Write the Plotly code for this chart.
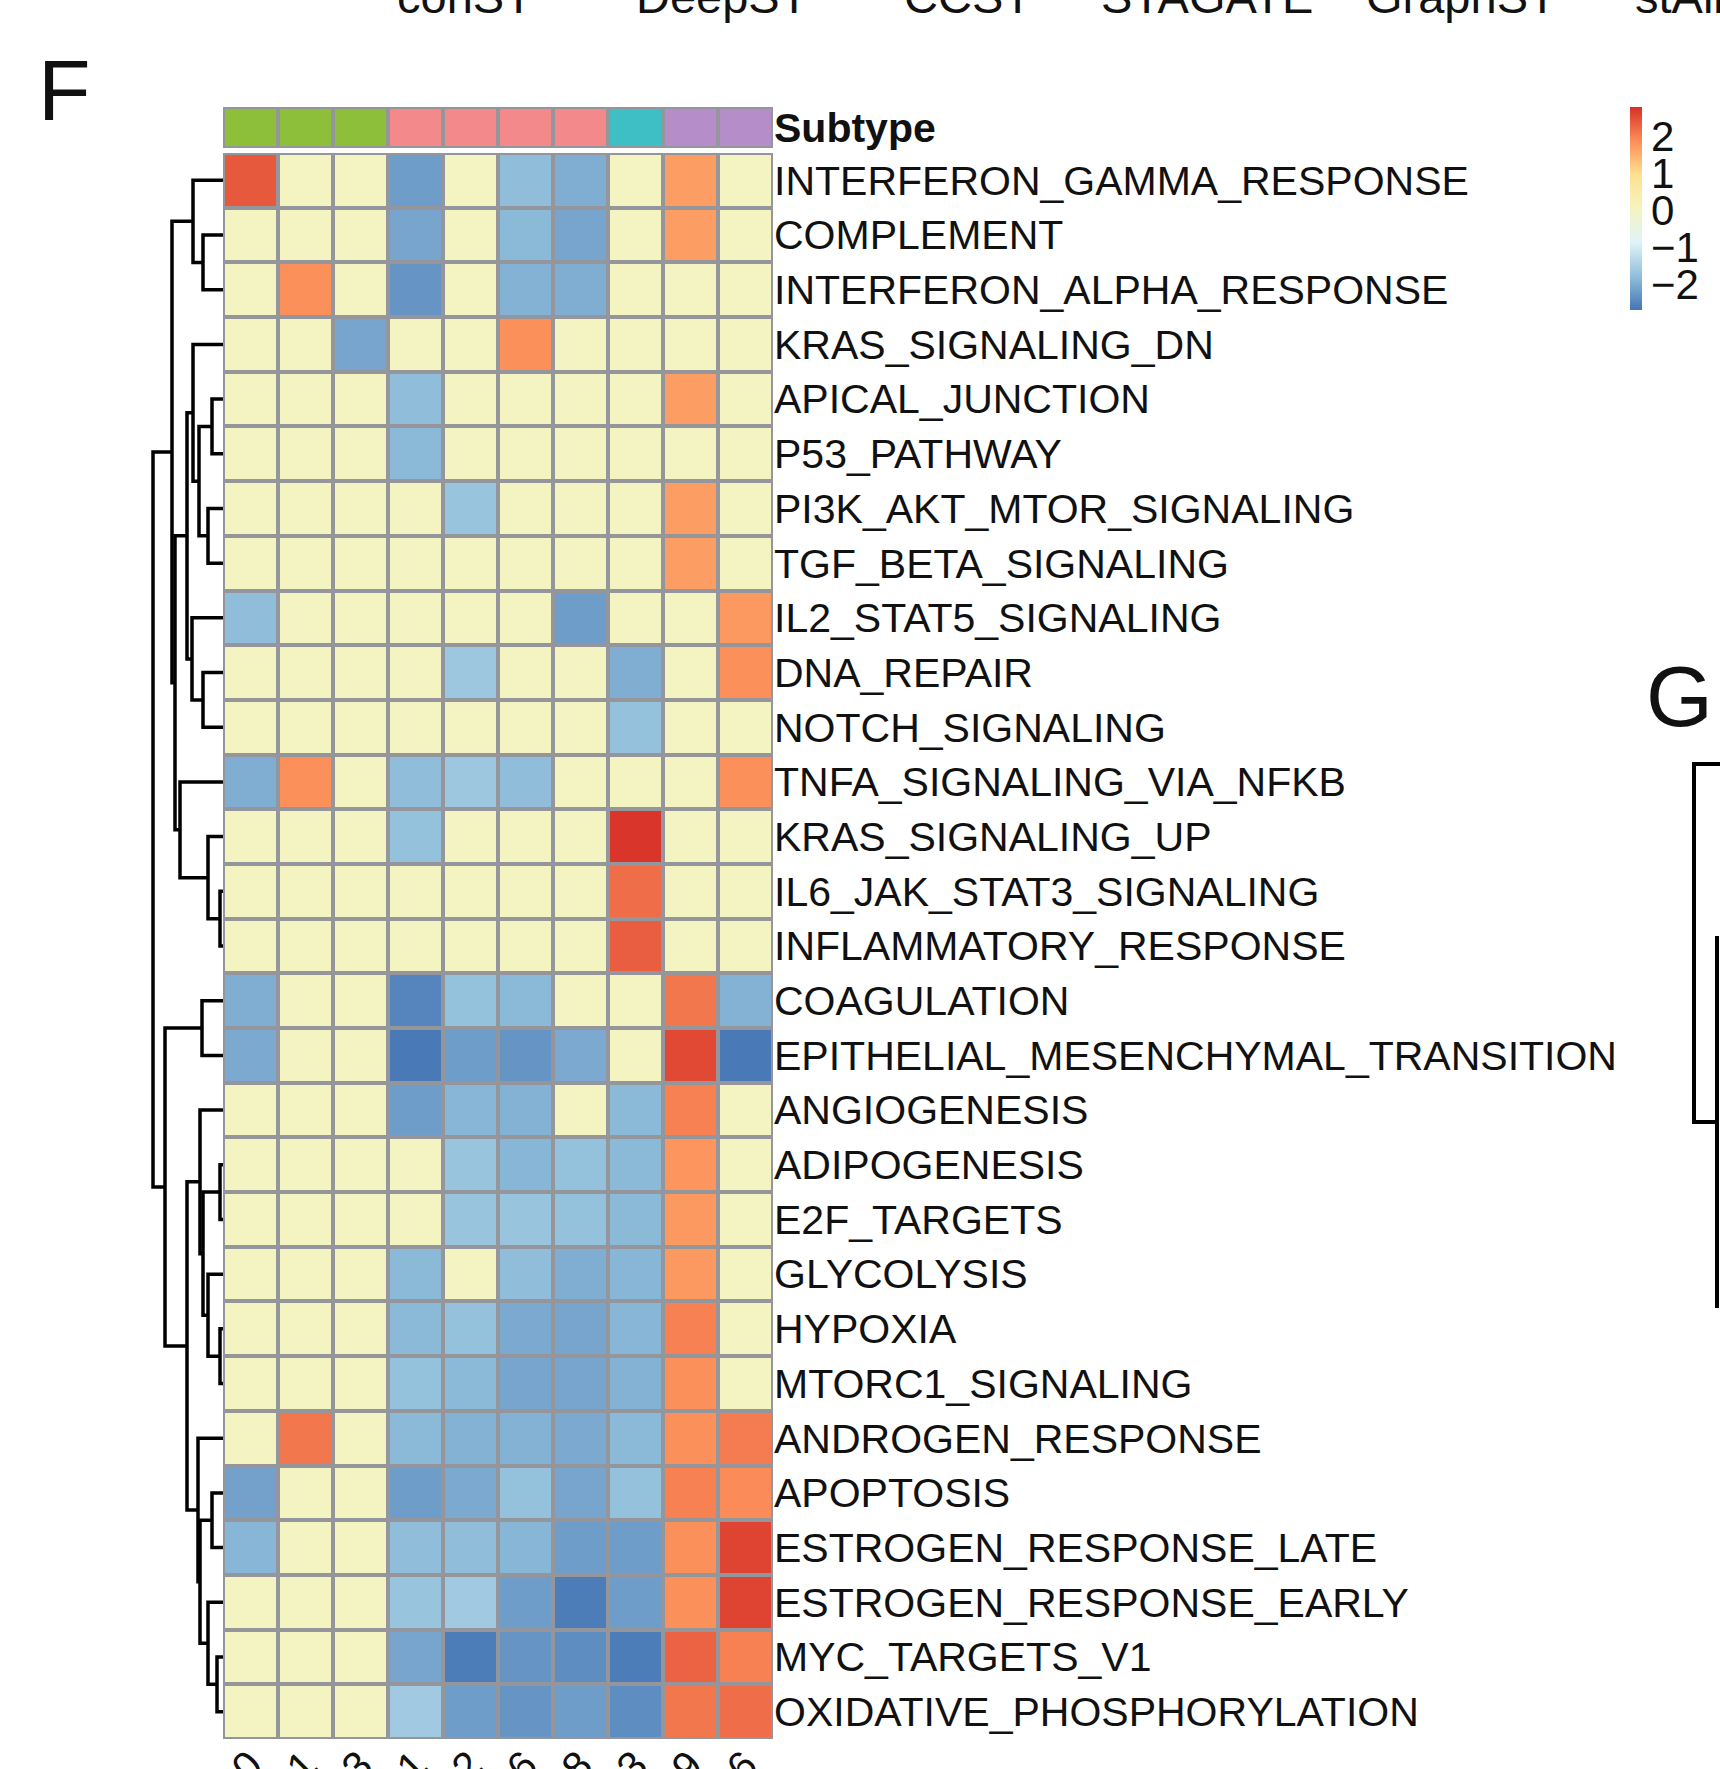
import plotly.graph_objects as go

W, H = 1720, 1769

# ---------------- data ----------------
row_labels = [
    "INTERFERON_GAMMA_RESPONSE", "COMPLEMENT", "INTERFERON_ALPHA_RESPONSE",
    "KRAS_SIGNALING_DN", "APICAL_JUNCTION", "P53_PATHWAY",
    "PI3K_AKT_MTOR_SIGNALING", "TGF_BETA_SIGNALING", "IL2_STAT5_SIGNALING",
    "DNA_REPAIR", "NOTCH_SIGNALING", "TNFA_SIGNALING_VIA_NFKB",
    "KRAS_SIGNALING_UP", "IL6_JAK_STAT3_SIGNALING", "INFLAMMATORY_RESPONSE",
    "COAGULATION", "EPITHELIAL_MESENCHYMAL_TRANSITION", "ANGIOGENESIS",
    "ADIPOGENESIS", "E2F_TARGETS", "GLYCOLYSIS", "HYPOXIA",
    "MTORC1_SIGNALING", "ANDROGEN_RESPONSE", "APOPTOSIS",
    "ESTROGEN_RESPONSE_LATE", "ESTROGEN_RESPONSE_EARLY", "MYC_TARGETS_V1",
    "OXIDATIVE_PHOSPHORYLATION",
]

col_labels = ["C1.0", "C1.1", "C1.3", "C2.1", "C2.2", "C2.6", "C2.8", "C3.3", "C4.9", "C4.6"]
col_subtype = ["S1", "S1", "S1", "S2", "S2", "S2", "S2", "S3", "S4", "S4"]
subtype_names = ["S1", "S2", "S3", "S4"]
subtype_colors = ["#8DBF3A", "#F3898A", "#3EBFC6", "#B58DC9"]

values = [
    [2.4, 0, 0, -2.2, 0, -1.8, -2.0, 0, 1.7, 0],
    [0, 0, 0, -2.1, 0, -1.85, -2.1, 0, 1.7, 0],
    [0, 1.85, 0, -2.3, 0, -1.95, -2.0, 0, 0, 0],
    [0, 0, -2.1, 0, 0, 1.85, 0, 0, 0, 0],
    [0, 0, 0, -1.8, 0, 0, 0, 0, 1.7, 0],
    [0, 0, 0, -1.85, 0, 0, 0, 0, 0, 0],
    [0, 0, 0, 0, -1.7, 0, 0, 0, 1.7, 0],
    [0, 0, 0, 0, 0, 0, 0, 0, 1.7, 0],
    [-1.8, 0, 0, 0, 0, 0, -2.2, 0, 0, 1.75],
    [0, 0, 0, 0, -1.65, 0, 0, -2.0, 0, 1.85],
    [0, 0, 0, 0, 0, 0, 0, -1.75, 0, 0],
    [-2.0, 1.85, 0, -1.8, -1.65, -1.8, 0, 0, 0, 1.85],
    [0, 0, 0, -1.75, 0, 0, 0, 2.75, 0, 0],
    [0, 0, 0, 0, 0, 0, 0, 2.2, 0, 0],
    [0, 0, 0, 0, 0, 0, 0, 2.35, 0, 0],
    [-2.0, 0, 0, -2.5, -1.75, -1.85, 0, 0, 2.1, -1.95],
    [-2.05, 0, 0, -2.65, -2.2, -2.3, -2.05, 0, 2.55, -2.65],
    [0, 0, 0, -2.2, -1.9, -1.95, 0, -1.85, 2.0, 0],
    [0, 0, 0, 0, -1.7, -1.9, -1.75, -1.85, 1.8, 0],
    [0, 0, 0, 0, -1.7, -1.7, -1.75, -1.85, 1.75, 0],
    [0, 0, 0, -1.85, 0, -1.8, -2.0, -1.9, 1.75, 0],
    [0, 0, 0, -1.85, -1.75, -2.05, -2.1, -1.9, 2.0, 0],
    [0, 0, 0, -1.75, -1.85, -2.1, -2.1, -1.95, 1.85, 0],
    [0, 2.1, 0, -1.85, -1.95, -1.95, -2.05, -1.85, 1.85, 2.05],
    [-2.15, 0, 0, -2.2, -2.05, -1.75, -2.1, -1.75, 2.0, 1.9],
    [-1.9, 0, 0, -1.8, -1.8, -1.9, -2.2, -2.2, 1.85, 2.6],
    [0, 0, 0, -1.7, -1.6, -2.2, -2.6, -2.2, 1.85, 2.6],
    [0, 0, 0, -2.1, -2.6, -2.3, -2.4, -2.6, 2.3, 2.0],
    [0, 0, 0, -1.6, -2.2, -2.3, -2.2, -2.4, 2.1, 2.2],
]

z_min, z_max = -2.7, 2.8
cbar_ticks = [-2, -1, 0, 1, 2]

# row dendrogram (hclust-style merges: left child, right child, height)
# leaves are 0..28, merged nodes numbered from 29 on
merges = [
    (1, 2, 20), (0, 29, 30), (4, 5, 11), (6, 7, 15), (31, 32, 24),
    (3, 33, 30), (9, 10, 20), (8, 35, 31), (34, 36, 36), (13, 14, 3),
    (12, 38, 15), (11, 39, 43), (37, 40, 48), (30, 41, 51), (15, 16, 21),
    (18, 19, 3), (21, 22, 3), (20, 45, 15), (44, 46, 20), (17, 47, 23),
    (24, 25, 11), (27, 28, 6), (26, 50, 15), (49, 51, 23), (23, 52, 25),
    (48, 53, 36), (43, 54, 58), (42, 55, 70),
]

# fragment of the neighbouring panel G dendrogram (its own units)
g_seg_x = [40, 14, 14, 37, None, 37, 37]
g_seg_y = [24, 24, 382, 382, None, 196, 568]

# method names of the panel above (cut off at the top edge)
top_methods = ["conST", "DeepST", "CCST", "STAGATE", "GraphST"]
top_method_x = [465, 722, 968, 1207, 1461]
top_cut_text = "stAligner"

# ---------------- helpers ----------------
def fx(px):
    return px / W


def fy(py):
    return 1 - py / H


n_rows = len(row_labels)
n_cols = len(col_labels)

colorscale = [
    [0.0, "#4575B4"], [1 / 6, "#91BFDB"], [2 / 6, "#E0F3F8"],
    [0.5, "#F5F4BF"], [4 / 6, "#FEE090"], [5 / 6, "#FC8D59"], [1.0, "#D73027"],
]

border = "#95959c"

fig = go.Figure()

# main heatmap
fig.add_trace(go.Heatmap(
    z=values, x=list(range(n_cols)), y=list(range(n_rows)),
    colorscale=colorscale, zmin=z_min, zmax=z_max,
    xgap=4, ygap=4, hoverinfo="skip",
    xaxis="x", yaxis="y",
    colorbar=dict(
        x=fx(1630), xanchor="left", xpad=0,
        y=fy(107), yanchor="top", ypad=0,
        len=203 / H, lenmode="fraction",
        thickness=12, thicknessmode="pixels",
        outlinewidth=0, tickvals=cbar_ticks, ticks="",
        tickfont=dict(family="Liberation Sans, Arial", size=42, color="#111"),
    ),
))

# subtype annotation row
sub_idx = [subtype_names.index(s) for s in col_subtype]
k = len(subtype_names)
disc = []
for i, c in enumerate(subtype_colors):
    disc.append([i / k, c])
    disc.append([(i + 1) / k, c])
fig.add_trace(go.Heatmap(
    z=[sub_idx], x=list(range(n_cols)), y=[0],
    colorscale=disc, zmin=0, zmax=k - 1, showscale=False,
    xgap=4, ygap=4, hoverinfo="skip", xaxis="x3", yaxis="y2",
))

# dendrogram from merges
n = n_rows
pos = {i: float(i) for i in range(n)}
hgt = {i: 0.0 for i in range(n)}
dx, dy = [], []
for j, (a, b, h) in enumerate(merges):
    node = n + j
    ya, yb = pos[a], pos[b]
    dx += [hgt[a], h, h, hgt[b], None]
    dy += [ya, ya, yb, yb, None]
    pos[node] = (ya + yb) / 2
    hgt[node] = h
fig.add_trace(go.Scatter(
    x=dx, y=dy, mode="lines", line=dict(color="black", width=3.5),
    hoverinfo="skip", showlegend=False, xaxis="x2", yaxis="y3",
))

# panel G dendrogram fragment
fig.add_trace(go.Scatter(
    x=g_seg_x, y=g_seg_y, mode="lines", line=dict(color="black", width=4),
    hoverinfo="skip", showlegend=False, xaxis="x4", yaxis="y4",
))

label_font = dict(family="Liberation Sans, Arial", size=41, color="#111")

main_x_dom = [fx(223), fx(773)]
main_y_dom = [fy(1739), fy(153)]

hidden = dict(visible=False, fixedrange=True, automargin=False)

fig.update_layout(
    width=W, height=H, margin=dict(l=0, r=0, t=0, b=0, pad=0, autoexpand=False),
    paper_bgcolor="white", plot_bgcolor="white", showlegend=False,
    xaxis=dict(domain=main_x_dom, range=[-0.5, n_cols - 0.5], anchor="y",
               tickvals=list(range(n_cols)), ticktext=col_labels, tickangle=-45,
               tickfont=label_font, ticks="", showgrid=False, zeroline=False,
               showline=False, fixedrange=True, automargin=False,
               ticklabelstandoff=-7),
    yaxis=dict(domain=main_y_dom, range=[n_rows - 0.5, -0.5], anchor="x",
               side="right", tickvals=list(range(n_rows)), ticktext=row_labels,
               tickfont=label_font, ticks="", showgrid=False, zeroline=False,
               showline=False, fixedrange=True, automargin=False),
    xaxis3=dict(domain=main_x_dom, range=[-0.5, n_cols - 0.5], anchor="y2", **hidden),
    yaxis2=dict(domain=[fy(148), fy(107)], range=[-0.5, 0.5], anchor="x3",
                side="right", tickvals=[0], ticktext=["<b>Subtype</b>"],
                tickfont=label_font, ticks="", showgrid=False, zeroline=False,
                showline=False, fixedrange=True, automargin=False),
    xaxis2=dict(domain=[fx(223 - 75), fx(223)], range=[75, 0], anchor="y3", **hidden),
    yaxis3=dict(domain=main_y_dom, range=[n_rows - 0.5, -0.5], anchor="x2", **hidden),
    xaxis4=dict(domain=[fx(1680), 1.0], range=[0, 40], anchor="y4", **hidden),
    yaxis4=dict(domain=[fy(1340), fy(740)], range=[600, 0], anchor="x4", **hidden),
)

# grey cell borders behind the bricks
e = 2.0 / 55
fig.add_shape(type="rect", xref="x", yref="y", layer="below",
              x0=-0.5 - e, x1=n_cols - 0.5 + e, y0=-0.5 - e, y1=n_rows - 0.5 + e,
              fillcolor=border, line=dict(width=0))
fig.add_shape(type="rect", xref="x3", yref="y2", layer="below",
              x0=-0.5 - e, x1=n_cols - 0.5 + e, y0=-0.5 - 2.0 / 41, y1=0.5 + 2.0 / 41,
              fillcolor=border, line=dict(width=0))

# panel letters
fig.add_annotation(text="F", x=fx(36), y=fy(40), xref="paper", yref="paper",
                   xanchor="left", yanchor="top", showarrow=False,
                   font=dict(family="Liberation Sans, Arial", size=86, color="#111"))
fig.add_annotation(text="G", x=fx(1644), y=fy(646), xref="paper", yref="paper",
                   xanchor="left", yanchor="top", showarrow=False,
                   font=dict(family="Liberation Sans, Arial", size=86, color="#111"))

top_font = dict(family="Liberation Sans, Arial", size=47, color="#111")
for name, px in zip(top_methods, top_method_x):
    fig.add_annotation(text=name, x=fx(px), y=fy(-4), xref="paper", yref="paper",
                       xanchor="center", yanchor="middle", showarrow=False,
                       font=top_font)
fig.add_annotation(text=top_cut_text, x=fx(1633), y=fy(-4), xref="paper", yref="paper",
                   xanchor="left", yanchor="middle", showarrow=False, font=top_font)

fig.write_html("out.html", config={"displayModeBar": False},
               post_script="document.body.style.margin='0';document.body.style.overflow='hidden';")
